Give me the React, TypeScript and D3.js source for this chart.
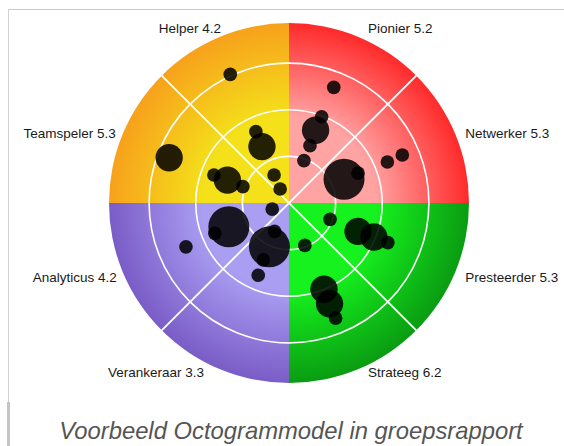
import React, { useEffect, useRef } from 'react';
import * as d3 from 'd3';

// octants clockwise from 12 o'clock
const octantNames = ["Pionier", "Netwerker", "Presteerder", "Strateeg", "Verankeraar", "Analyticus", "Teamspeler", "Helper"];
const octantScores = [5.2, 5.3, 5.3, 6.2, 3.3, 4.2, 5.3, 4.2];

// group members, in ring units (x right, y up) and size class
const bubbleX = [-1.26, -0.71, -0.58, -2.57, -1.61, -1.32, -0.99, -0.32, -0.19,
    0.96, 0.70, 0.57, 0.45, 0.32, 2.11, 2.43, 1.18, 1.48,
    -0.36, -1.29, -1.59, -2.21, -0.42, -0.31, -0.55, -0.66,
    0.88, 0.34, 1.48, 1.82, 2.12, 0.75, 0.87, 1.00];
const bubbleY = [2.76, 1.53, 1.21, 0.97, 0.60, 0.49, 0.35, 0.60, 0.30,
    2.48, 1.85, 1.56, 1.23, 0.91, 0.88, 1.03, 0.51, 0.64,
    -0.13, -0.51, -0.65, -0.94, -0.94, -0.61, -1.22, -1.55,
    -0.35, -0.91, -0.61, -0.73, -0.85, -1.85, -2.16, -2.47];
const bubbleSize = [1, 1, 2, 2, 1, 2, 1, 1, 1,
    1, 1, 2, 1, 1, 1, 1, 3, 1,
    1, 3, 1, 1, 3, 1, 1, 1,
    1, 1, 2, 2, 1, 2, 2, 1];

const rings = [1, 2, 3];
const maxRing = 3.86;

const caption = "Voorbeeld Octogrammodel in groepsrapport";

// quadrant gradients: inner, outer (red, green, purple, yellow)
const quadColors: [string, string][] = [
    ["#ffa3a3", "#ff2a2a"],
    ["#16f21e", "#0a9c12"],
    ["#aa9ef3", "#7a5cc6"],
    ["#f4e11a", "#f7a11c"],
];

// small label nudges [dx, dy] per octant
const labelNudge: [number, number][] = [
    [10, -4], [10, 4], [10, 10], [10, 8], [-16, 8], [-6, 10], [-7, 4], [1, -4],
];

const App: React.FC = () => {
    const svgRef = useRef<SVGSVGElement>(null);
    const width = 564;
    const height = 446;

    useEffect(() => {
        if (!svgRef.current) return;
        const svg = d3.select(svgRef.current);
        svg.selectAll("*").remove();

        const cx = 289;
        const cy = 203;
        const R = 180;
        const font = "'Liberation Sans', Arial, Helvetica, sans-serif";

        // frame lines
        svg.append("line").attr("x1", 8).attr("x2", width).attr("y1", 9.5).attr("y2", 9.5)
            .style("stroke", "#c8c8c8").style("stroke-width", 1);
        svg.append("line").attr("x1", 8.5).attr("x2", 8.5).attr("y1", 9).attr("y2", 402)
            .style("stroke", "#d2d2d2").style("stroke-width", 1);
        svg.append("rect").attr("x", 7).attr("y", 402).attr("width", 3).attr("height", height - 402)
            .style("fill", "#c4c4c4");

        const defs = svg.append("defs");
        quadColors.forEach(([inner, outer], i) => {
            // user space of the translated group, so centre is 0,0
            const grad = defs.append("radialGradient")
                .attr("id", `quad${i}`)
                .attr("gradientUnits", "userSpaceOnUse")
                .attr("cx", 0).attr("cy", 0).attr("r", R);
            grad.append("stop").attr("offset", "0%").attr("stop-color", inner);
            grad.append("stop").attr("offset", "48%").attr("stop-color", inner);
            grad.append("stop").attr("offset", "100%").attr("stop-color", outer);
        });

        const g = svg.append("g").attr("transform", `translate(${cx},${cy})`);

        const r = d3.scaleLinear().domain([0, maxRing]).range([0, R]);
        const x = d3.scaleLinear().domain([-maxRing, maxRing]).range([-R, R]);
        const y = d3.scaleLinear().domain([-maxRing, maxRing]).range([R, -R]);
        const size = d3.scaleLinear().domain([0, 3]).range([0, 20.5]);

        const arc = d3.arc<{ start: number; end: number }>()
            .innerRadius(0)
            .outerRadius(R)
            .startAngle(d => d.start)
            .endAngle(d => d.end);

        quadColors.forEach((_, i) => {
            g.append("path")
                .attr("d", arc({ start: i * Math.PI / 2, end: (i + 1) * Math.PI / 2 }) || "")
                .style("fill", `url(#quad${i})`);
        });

        // rings
        rings.forEach(v => {
            g.append("circle")
                .attr("r", r(v))
                .style("fill", "none")
                .style("stroke", "white")
                .style("stroke-width", 1.6);
        });

        // diagonals
        [Math.PI / 4, 3 * Math.PI / 4].forEach(a => {
            const dx = Math.sin(a) * R;
            const dy = -Math.cos(a) * R;
            g.append("line")
                .attr("x1", -dx).attr("y1", -dy).attr("x2", dx).attr("y2", dy)
                .style("stroke", "white")
                .style("stroke-width", 1.8);
        });

        // bubbles
        bubbleX.forEach((bx, i) => {
            g.append("circle")
                .attr("cx", x(bx))
                .attr("cy", y(bubbleY[i]))
                .attr("r", size(bubbleSize[i]))
                .style("fill", "#000")
                .style("fill-opacity", 0.86);
        });

        // octant labels
        octantNames.forEach((name, i) => {
            const a = (i + 0.5) * Math.PI / 4;
            const px = Math.sin(a) * R;
            const py = -Math.cos(a) * R;
            const [ndx, ndy] = labelNudge[i];
            g.append("text")
                .attr("x", px + ndx)
                .attr("y", py + ndy)
                .style("text-anchor", px > 0 ? "start" : "end")
                .style("font-family", font)
                .style("font-size", "13.5px")
                .style("fill", "#1a1a1a")
                .text(`${name} ${octantScores[i].toFixed(1)}`);
        });

        svg.append("text")
            .attr("x", 291)
            .attr("y", 439)
            .style("text-anchor", "middle")
            .style("font-family", font)
            .style("font-style", "italic")
            .style("font-size", "23.8px")
            .style("fill", "#555")
            .text(caption);
    }, []);

    return (
        <svg
            ref={svgRef}
            width={width}
            height={height}
            style={{ position: 'absolute', left: 0, top: 0, background: '#fff' }}
        />
    );
};

export default App;
